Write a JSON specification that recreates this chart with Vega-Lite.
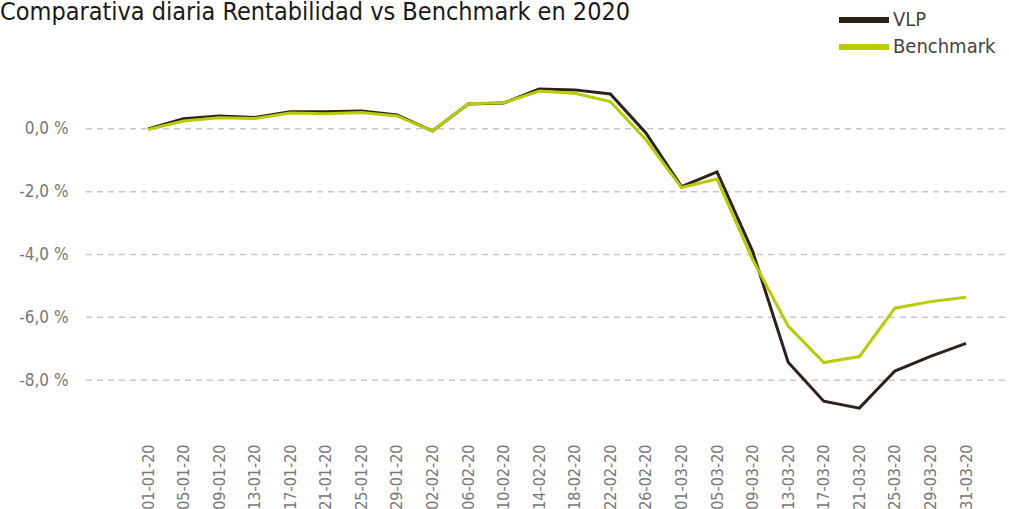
{
  "$schema": "https://vega.github.io/schema/vega-lite/v6.json",
  "width": 920,
  "height": 377,
  "autosize": {"type": "none"},
  "padding": {"left": 85, "top": 66, "right": 4, "bottom": 66},
  "background": "white",
  "config": {"font": "DejaVu Sans Condensed", "view": {"stroke": null}},
  "title": {
    "text": "Comparativa diaria Rentabilidad vs Benchmark en 2020",
    "anchor": "start",
    "frame": "group",
    "dx": -85,
    "offset": -18,
    "baseline": "top",
    "fontSize": 25,
    "fontWeight": "normal",
    "color": "#1a1a1a",
    "font": "DejaVu Sans Condensed"
  },
  "layer": [
    {
      "data": {"values": [{"linea": 0}, {"linea": -2}, {"linea": -4}, {"linea": -6}, {"linea": -8}]},
      "mark": {"type": "rule", "strokeDash": [6, 5], "color": "#c8c8c8", "strokeWidth": 1.5},
      "encoding": {
        "y": {
          "field": "linea",
          "type": "quantitative",
          "scale": {"domain": [-10, 2], "nice": false, "zero": false},
          "axis": {
            "title": null,
            "values": [0, -2, -4, -6, -8],
            "labelExpr": "(datum.value < 0 ? '-' : '') + replace(format(abs(datum.value), '.1f'), '.', ',') + ' %'",
            "grid": false,
            "ticks": false,
            "domain": false,
            "labelPadding": 17,
            "labelFontSize": 17,
            "labelColor": "#777777"
          }
        }
      }
    },
    {
      "data": {
        "values": [
          {"fecha": "01-01-20", "serie": "VLP", "valor": 0.0},
          {"fecha": "05-01-20", "serie": "VLP", "valor": 0.32},
          {"fecha": "09-01-20", "serie": "VLP", "valor": 0.41},
          {"fecha": "13-01-20", "serie": "VLP", "valor": 0.36},
          {"fecha": "17-01-20", "serie": "VLP", "valor": 0.54},
          {"fecha": "21-01-20", "serie": "VLP", "valor": 0.54},
          {"fecha": "25-01-20", "serie": "VLP", "valor": 0.57},
          {"fecha": "29-01-20", "serie": "VLP", "valor": 0.44},
          {"fecha": "02-02-20", "serie": "VLP", "valor": -0.07},
          {"fecha": "06-02-20", "serie": "VLP", "valor": 0.79},
          {"fecha": "10-02-20", "serie": "VLP", "valor": 0.82},
          {"fecha": "14-02-20", "serie": "VLP", "valor": 1.27},
          {"fecha": "18-02-20", "serie": "VLP", "valor": 1.24},
          {"fecha": "22-02-20", "serie": "VLP", "valor": 1.11},
          {"fecha": "26-02-20", "serie": "VLP", "valor": -0.13},
          {"fecha": "01-03-20", "serie": "VLP", "valor": -1.84},
          {"fecha": "05-03-20", "serie": "VLP", "valor": -1.37},
          {"fecha": "09-03-20", "serie": "VLP", "valor": -3.9},
          {"fecha": "13-03-20", "serie": "VLP", "valor": -7.43},
          {"fecha": "17-03-20", "serie": "VLP", "valor": -8.67},
          {"fecha": "21-03-20", "serie": "VLP", "valor": -8.89},
          {"fecha": "25-03-20", "serie": "VLP", "valor": -7.71},
          {"fecha": "29-03-20", "serie": "VLP", "valor": -7.24},
          {"fecha": "31-03-20", "serie": "VLP", "valor": -6.83},
          {"fecha": "01-01-20", "serie": "Benchmark", "valor": -0.02},
          {"fecha": "05-01-20", "serie": "Benchmark", "valor": 0.25},
          {"fecha": "09-01-20", "serie": "Benchmark", "valor": 0.35},
          {"fecha": "13-01-20", "serie": "Benchmark", "valor": 0.33},
          {"fecha": "17-01-20", "serie": "Benchmark", "valor": 0.5},
          {"fecha": "21-01-20", "serie": "Benchmark", "valor": 0.48},
          {"fecha": "25-01-20", "serie": "Benchmark", "valor": 0.52},
          {"fecha": "29-01-20", "serie": "Benchmark", "valor": 0.41},
          {"fecha": "02-02-20", "serie": "Benchmark", "valor": -0.07},
          {"fecha": "06-02-20", "serie": "Benchmark", "valor": 0.8},
          {"fecha": "10-02-20", "serie": "Benchmark", "valor": 0.83},
          {"fecha": "14-02-20", "serie": "Benchmark", "valor": 1.2},
          {"fecha": "18-02-20", "serie": "Benchmark", "valor": 1.13},
          {"fecha": "22-02-20", "serie": "Benchmark", "valor": 0.87},
          {"fecha": "26-02-20", "serie": "Benchmark", "valor": -0.35},
          {"fecha": "01-03-20", "serie": "Benchmark", "valor": -1.87},
          {"fecha": "05-03-20", "serie": "Benchmark", "valor": -1.6},
          {"fecha": "09-03-20", "serie": "Benchmark", "valor": -4.16},
          {"fecha": "13-03-20", "serie": "Benchmark", "valor": -6.28},
          {"fecha": "17-03-20", "serie": "Benchmark", "valor": -7.44},
          {"fecha": "21-03-20", "serie": "Benchmark", "valor": -7.25},
          {"fecha": "25-03-20", "serie": "Benchmark", "valor": -5.71},
          {"fecha": "29-03-20", "serie": "Benchmark", "valor": -5.5},
          {"fecha": "31-03-20", "serie": "Benchmark", "valor": -5.36}
        ]
      },
      "mark": {"type": "line", "strokeWidth": 3},
      "encoding": {
        "x": {
          "field": "fecha",
          "type": "ordinal",
          "sort": null,
          "scale": {"type": "point", "padding": 0, "range": [63, 881]},
          "axis": {
            "title": null,
            "labelAngle": 270,
            "ticks": false,
            "domain": false,
            "grid": false,
            "labelPadding": 1,
            "labelFontSize": 16,
            "labelColor": "#777777"
          }
        },
        "y": {
          "field": "valor",
          "type": "quantitative",
          "scale": {"domain": [-10, 2], "nice": false, "zero": false},
          "axis": {
            "title": null,
            "values": [0, -2, -4, -6, -8],
            "labelExpr": "(datum.value < 0 ? '-' : '') + replace(format(abs(datum.value), '.1f'), '.', ',') + ' %'",
            "grid": false,
            "ticks": false,
            "domain": false,
            "labelPadding": 17,
            "labelFontSize": 17,
            "labelColor": "#777777"
          }
        },
        "color": {
          "field": "serie",
          "type": "nominal",
          "scale": {"domain": ["VLP", "Benchmark"], "range": ["#2e2119", "#b8cc00"]},
          "legend": {
            "title": null,
            "orient": "none",
            "legendX": 751,
            "legendY": -59,
            "rowPadding": 2,
            "symbolType": "M-1,0H4",
            "symbolSize": 400,
            "symbolStrokeWidth": 6,
            "labelFontSize": 20,
            "labelColor": "#444444",
            "labelOffset": 31
          }
        }
      }
    }
  ]
}
